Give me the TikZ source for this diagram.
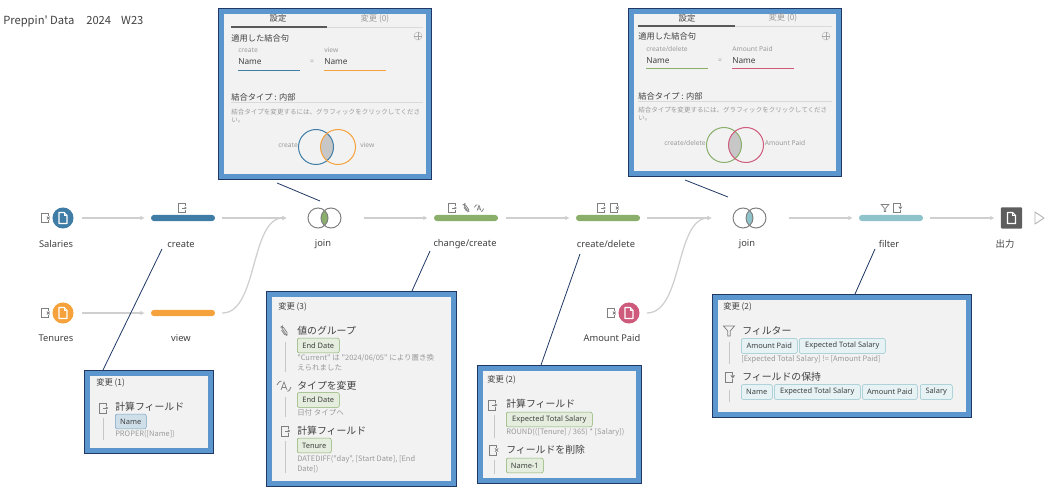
\documentclass[tikz,border=0pt]{standalone}
\usepackage{fontspec}
\setmainfont{Noto Sans}
\newfontfamily\jp{Noto Sans CJK JP}
\usetikzlibrary{positioning, arrows.meta}

\definecolor{bluebar}{HTML}{3F7DA6}
\definecolor{orangebar}{HTML}{F5A23C}
\definecolor{greenbar}{HTML}{8AAF6B}
\definecolor{tealbar}{HTML}{8FC3CB}
\definecolor{pinkbar}{HTML}{CE5A7C}
\definecolor{panelblue}{HTML}{5B96CF}
\definecolor{paneldark}{HTML}{1F3864}
\definecolor{panelgrey}{HTML}{F2F2F2}
\definecolor{flowgrey}{HTML}{CFCFCF}
\definecolor{labelgrey}{HTML}{404040}
\definecolor{descgrey}{HTML}{9A9A9A}
\definecolor{icongrey}{HTML}{808080}

\tikzset{
    w/.style={minimum width=#1*.75pt},
    txt/.style={inner sep=0pt, anchor=west, text=labelgrey, font=\fontsize{6.2}{7}\selectfont},
    lbl/.style={inner sep=0pt, text=labelgrey, font=\fontsize{7}{8}\selectfont},
    small/.style={inner sep=0pt, anchor=west, text=descgrey, font=\fontsize{5}{6}\selectfont},
    desc/.style={inner sep=0pt, anchor=west, text=descgrey, font=\jp\fontsize{5.6}{6}\selectfont},
    hint/.style={inner sep=0pt, anchor=west, text=descgrey, font=\jp\fontsize{4.9}{6}\selectfont},
    head/.style={inner sep=0pt, anchor=west, text=labelgrey, font=\jp\fontsize{6.2}{7}\selectfont},
    title/.style={inner sep=0pt, anchor=west, text=labelgrey, font=\jp\fontsize{7.4}{8}\selectfont},
    flow/.style 2 args={draw=flowgrey, line width=.95pt, -{Latex[length=3.2pt,width=3.4pt]}, shorten <=#1*.75pt, shorten >=#2*.75pt},
    leader/.style={draw=paneldark, line width=.6pt},
    bar/.style={fill=#1, rounded corners=2.2pt, minimum width=48pt, minimum height=4.6pt, inner sep=0pt},
    source/.style={circle, fill=#1, minimum size=15.8pt, inner sep=0pt},
    joinbox/.style={minimum width=25pt, minimum height=15pt, inner sep=0pt},
    panel/.style={draw=panelblue, line width=3.75pt, fill=panelgrey, inner sep=0pt, outer sep=0pt,
        preaction={draw=paneldark, line width=5.25pt}},
    chipg/.style={draw=#1, fill=#1!22, rounded corners=1.5pt, anchor=west, inner sep=0pt, minimum height=11.2pt,
        text=labelgrey, font=\fontsize{5.6}{6}\selectfont},
    stem/.style={draw=black!22, line width=.6pt},
    ico/.style={draw=icongrey, line width=.55pt},
    pics/addfield/.style={code={
        \draw[ico] (3.5,-1.8) -- (3.5,-5) -- (-3.5,-5) -- (-3.5,5) -- (3.5,5) -- (3.5,1.8);
        \draw[ico] (0,0) -- (3.5,0);
        \fill[icongrey] (2.8,-1.6) -- (5.4,0) -- (2.8,1.6) -- cycle;
    }},
    pics/dropfield/.style={code={
        \draw[ico] (3.5,-1.8) -- (3.5,-5) -- (-3.5,-5) -- (-3.5,5) -- (3.5,5) -- (3.5,1.8);
        \draw[ico] (2,-1.6) -- (5.2,1.6) (2,1.6) -- (5.2,-1.6);
    }},
    pics/keepfield/.style={code={
        \draw[ico] (3.5,-1.8) -- (3.5,-5) -- (-3.5,-5) -- (-3.5,5) -- (3.5,5) -- (3.5,1.8);
        \fill[icongrey] (1.4,-1.6) -- (6,-1.6) -- (3.7,1.6) -- cycle;
    }},
    pics/funnel/.style={code={
        \draw[ico] (-5.5,-5) -- (5.5,-5) -- (1.2,0) -- (1.2,5) -- (-1.2,5) -- (-1.2,0) -- cycle;
    }},
    pics/clip/.style={code={
        \draw[ico, rotate=35, rounded corners=1.4pt] (-1.6,-2) -- (-1.6,5) -- (1.6,5) -- (1.6,-5) -- (-.2,-5) -- (-.2,3);
    }},
    pics/retype/.style={code={
        \draw[ico] (-3,4) -- (0,-4) -- (3,4) (-1.9,1.4) -- (1.9,1.4);
        \draw[ico] (-7,-1) .. controls (-6,-4) and (-4,-5) .. (-2.5,-5);
        \draw[ico] (7,1) .. controls (6,4) and (5,5) .. (3.5,5.5);
    }},
    pics/sheet/.style={code={
        \draw[draw=white, line width=.8pt, line join=round] (-4,-5.5) -- (1.2,-5.5) -- (4,-2.7) -- (4,5.5) -- (-4,5.5) -- cycle;
        \draw[draw=white, line width=.7pt] (1.2,-5.5) -- (1.2,-2.7) -- (4,-2.7);
    }},
    pics/lens/.style={code={
        \begin{scope}
            \clip (-6.5,0) circle (10);
            \fill[#1] (6.5,0) circle (10);
        \end{scope}
        \draw[draw=icongrey, line width=.75pt] (-6.5,0) circle (10) (6.5,0) circle (10);
    }},
    pics/venn/.style 2 args={code={
        \begin{scope}
            \clip (-11,0) circle (17.5);
            \fill[black!22] (11,0) circle (17.5);
        \end{scope}
        \draw[draw=#1, line width=.75pt] (-11,0) circle (17.5);
        \draw[draw=#2, line width=.75pt] (11,0) circle (17.5);
    }},
}

\begin{document}
\begin{tikzpicture}[x=.75pt, y=-.75pt]
    \useasboundingbox (0,0) rectangle (1056,498);

    \node[title, font=\jp\fontsize{8.4}{9}\selectfont] (heading) at (3,21) {Preppin' Data\hspace{9pt}2024\hspace{7.5pt}W23};

    \node[source=bluebar] (salaries) at (63,218) {};
    \node[source=orangebar] (tenures) at (63,313) {};
    \node[source=pinkbar] (amount) at (629,313) {};
    \node[bar=bluebar] (createbar) at (183,218) {};
    \node[bar=orangebar] (viewbar) at (183,313) {};
    \node[bar=greenbar] (changebar) at (466,218) {};
    \node[bar=greenbar] (deletebar) at (608,218) {};
    \node[bar=tealbar] (filterbar) at (891,218) {};
    \node[joinbox] (joinone) at (324.5,218) {};
    \node[joinbox] (jointwo) at (749.5,218) {};
    \node[fill=black!63, rounded corners=.8pt, minimum size=16pt, inner sep=0pt] (output) at (1011.5,218) {};

    \pic at (salaries) {sheet};
    \pic at (tenures) {sheet};
    \pic at (amount) {sheet};
    \pic at (output) {sheet};
    \pic at (joinone) {lens=greenbar};
    \pic at (jointwo) {lens=tealbar};
    \draw[draw=black!30, line width=.7pt, line join=round] (1035,212) -- (1044,218) -- (1035,224) -- cycle;

    \pic[scale=.9] at (45,218) {dropfield};
    \pic[scale=.9] at (45,313) {dropfield};
    \pic[scale=.9] at (611,313) {dropfield};
    \pic[scale=.9] at (182,208) {addfield};
    \pic[scale=.9] at (452,208) {addfield};
    \pic[scale=.85] at (466,208) {clip};
    \pic[scale=.65] at (479,208) {retype};
    \pic[scale=.9] at (601,208) {addfield};
    \pic[scale=.9] at (614,208) {dropfield};
    \pic[scale=.7] at (885,208) {funnel};
    \pic[scale=.9] at (897,208) {keepfield};

    \node[lbl] (lblsalaries) at (56,244) {Salaries};
    \node[lbl] (lbltenures) at (56,338) {Tenures};
    \node[lbl] (lblcreate) at (181,244) {create};
    \node[lbl] (lblview) at (181,338) {view};
    \node[lbl] (lbljoinone) at (323,244) {join};
    \node[lbl] (lblchange) at (465,244) {change/create};
    \node[lbl] (lbldelete) at (606,244) {create/delete};
    \node[lbl] (lblamount) at (612,338) {Amount Paid};
    \node[lbl] (lbljointwo) at (747,244) {join};
    \node[lbl] (lblfilter) at (889,244) {filter};
    \node[lbl, font=\jp\fontsize{7}{8}\selectfont] (lbloutput) at (1005,244) {出力};

    \draw[flow={8}{6}] (salaries) -- (createbar);
    \draw[flow={8}{6}] (tenures) -- (viewbar);
    \draw[flow={7}{21}] (createbar) -- (joinone);
    \draw[flow={7}{0}] (viewbar.east) .. controls (258,313) and (250,218) .. ([xshift=-15.5pt]joinone.west);
    \draw[flow={23}{6}] (joinone) -- (changebar);
    \draw[flow={8}{6}] (changebar) -- (deletebar);
    \draw[flow={7}{21}] (deletebar) -- (jointwo);
    \draw[flow={7}{0}] (amount.east) .. controls (683,313) and (675,218) .. ([xshift=-15.5pt]jointwo.west);
    \draw[flow={23}{6}] (jointwo) -- (filterbar);
    \draw[flow={7}{6}] (filterbar) -- (output);

    \coordinate (leadonea) at (277,183);
    \coordinate (leadoneb) at (320,201);
    \coordinate (leadtwoa) at (685,180);
    \coordinate (leadtwob) at (728,197);
    \coordinate (leadcreatea) at (162,249);
    \coordinate (leadcreateb) at (103,370);
    \coordinate (leadchangea) at (430,251);
    \coordinate (leadchangeb) at (412,291);
    \coordinate (leaddeletea) at (580,254);
    \coordinate (leaddeleteb) at (541,365);
    \coordinate (leadfiltera) at (875,249);
    \coordinate (leadfilterb) at (855,294);
    \draw[leader] (leadonea) -- (leadoneb);
    \draw[leader] (leadtwoa) -- (leadtwob);
    \draw[leader] (leadcreatea) -- (leadcreateb);
    \draw[leader] (leadchangea) -- (leadchangeb);
    \draw[leader] (leaddeletea) -- (leaddeleteb);
    \draw[leader] (leadfiltera) -- (leadfilterb);

    \node[panel, minimum width=155.25pt, minimum height=123.75pt] (panelone) at (325,94) {};
    \node[head, anchor=center] (tabset) at (278,18) {設定};
    \node[head, anchor=center, text=descgrey] (tabchg) at (375,19) {変更 (0)};
    \draw[draw=black!15, line width=.6pt] (327,27) -- (423,27);
    \draw[draw=black!65, line width=1pt] (231,27) -- (327,27);
    \node[head] (clause) at (231,38) {適用した結合句};
    \node[circle, draw=black!25, line width=.4pt, minimum size=6pt, inner sep=0pt] (plus) at (418,36) {};
    \draw[draw=black!35, line width=.4pt] (plus.west) -- (plus.east) (plus.north) -- (plus.south);
    \node[small] (cola) at (238,50) {create};
    \node[txt] (namea) at (238,62) {Name};
    \draw[draw=bluebar, line width=.7pt] (238,70) -- (300,70);
    \node[small, anchor=center] (eqa) at (312,62) {=};
    \node[small] (colb) at (324,50) {view};
    \node[txt] (nameb) at (324,62) {Name};
    \draw[draw=orangebar, line width=.7pt] (324,70) -- (386,70);
    \node[head] (jointype) at (231,97) {結合タイプ : 内部};
    \draw[draw=black!15, line width=.5pt] (231,102) -- (423,102);
    \node[hint] (hinta) at (231,112) {結合タイプを変更するには、グラフィックをクリックしてくださ};
    \node[hint] (hintb) at (231,120) {い。};
    \pic at (327,147) {venn={bluebar}{orangebar}};
    \node[small] (vennleft) at (278,145) {create};
    \node[small] (vennright) at (360,145) {view};

    \node[panel, minimum width=155.25pt, minimum height=121.5pt] (paneltwo) at (734.5,92.5) {};
    \node[head, anchor=center] (tabsettwo) at (687,18) {設定};
    \node[head, anchor=center, text=descgrey] (tabchgtwo) at (783,18) {変更 (0)};
    \draw[draw=black!15, line width=.6pt] (735,26) -- (832,26);
    \draw[draw=black!65, line width=1pt] (638,26) -- (735,26);
    \node[head] (clausetwo) at (638,36) {適用した結合句};
    \node[circle, draw=black!25, line width=.4pt, minimum size=6pt, inner sep=0pt] (plustwo) at (826,36) {};
    \draw[draw=black!35, line width=.4pt] (plustwo.west) -- (plustwo.east) (plustwo.north) -- (plustwo.south);
    \node[small] (colatwo) at (646,49) {create/delete};
    \node[txt] (nameatwo) at (646,61) {Name};
    \draw[draw=greenbar, line width=.7pt] (646,68) -- (708,68);
    \node[small, anchor=center] (eqb) at (720,61) {=};
    \node[small] (colbtwo) at (732,49) {Amount Paid};
    \node[txt] (namebtwo) at (732,61) {Name};
    \draw[draw=pinkbar, line width=.7pt] (732,68) -- (794,68);
    \node[head] (jointypetwo) at (638,96) {結合タイプ : 内部};
    \draw[draw=black!15, line width=.5pt] (638,101) -- (832,101);
    \node[hint] (hintatwo) at (638,110) {結合タイプを変更するには、グラフィックをクリックしてくださ};
    \node[hint] (hintbtwo) at (638,118) {い。};
    \pic at (735,145) {venn={greenbar}{pinkbar}};
    \node[small, anchor=center] (vennlefttwo) at (685,143) {create/delete};
    \node[small, anchor=center] (vennrighttwo) at (785,143) {Amount Paid};

    \node[panel, minimum width=92.25pt, minimum height=57.75pt] (panelcreate) at (149,412) {};
    \node[head] (chgcreate) at (96,383) {変更 (1)};
    \pic at (103,408) {addfield};
    \node[title] (calccreate) at (115,407) {計算フィールド};
    \draw[stem] (103,418) -- (103,440);
    \node[chipg=bluebar, w=31, draw=bluebar!70, fill=bluebar!25] (chipname) at (115,421.5) {Name};
    \node[desc] (proper) at (115,434) {PROPER([Name])};

    \node[panel, minimum width=138pt, minimum height=141.75pt] (panelchange) at (361.5,389) {};
    \node[head] (chgchange) at (278,307) {変更 (3)};
    \pic at (284,331) {clip};
    \node[title] (grouptitle) at (297,331) {値のグループ};
    \draw[stem] (285,342) -- (285,372);
    \node[chipg=greenbar, w=42] (chipenda) at (297,345.5) {End Date};
    \node[desc] (groupa) at (297,358) {"Current" は "2024/06/05" により置き換};
    \node[desc] (groupb) at (297,368) {えられました};
    \pic at (284,386) {retype};
    \node[title] (typetitle) at (297,386) {タイプを変更};
    \draw[stem] (285,397) -- (285,417);
    \node[chipg=greenbar, w=42] (chipendb) at (297,400) {End Date};
    \node[desc] (typea) at (297,413) {日付 タイプへ};
    \pic at (285,431) {addfield};
    \node[title] (calcchange) at (297,431) {計算フィールド};
    \draw[stem] (285,441) -- (285,473);
    \node[chipg=greenbar, w=34] (chiptenure) at (297,445.5) {Tenure};
    \node[desc] (diffa) at (297,459) {DATEDIFF("day", [Start Date], [End};
    \node[desc] (diffb) at (297,469) {Date])};

    \node[panel, minimum width=118.5pt, minimum height=84pt] (paneldelete) at (559.5,424.5) {};
    \node[head] (chgdelete) at (487,380) {変更 (2)};
    \pic at (492,405) {addfield};
    \node[title] (calcdelete) at (506,404) {計算フィールド};
    \draw[stem] (494,415) -- (494,438);
    \node[chipg=greenbar, w=86] (chipsalary) at (506,419.5) {Expected Total Salary};
    \node[desc] (roundf) at (506,432) {ROUND(([Tenure] / 365) * [Salary])};
    \pic at (493,450) {dropfield};
    \node[title] (droptitle) at (506,450) {フィールドを削除};
    \draw[stem] (494,460) -- (494,474);
    \node[chipg=greenbar, w=37] (chipnameone) at (506,465.5) {Name-1};

    \node[panel, minimum width=189.75pt, minimum height=87.75pt] (panelfilter) at (842,356) {};
    \node[head] (chgfilter) at (723,307) {変更 (2)};
    \pic at (729,331) {funnel};
    \node[title] (filtertitle) at (742,331) {フィルター};
    \draw[stem] (729,342) -- (729,364);
    \node[chipg=tealbar, w=56] (chipamta) at (741,346) {Amount Paid};
    \node[chipg=tealbar, w=86] (chipexpa) at (799,346) {Expected Total Salary};
    \node[desc] (filterexpr) at (741,359) {[Expected Total Salary] != [Amount Paid]};
    \pic at (729,377) {keepfield};
    \node[title] (keeptitle) at (742,377) {フィールドの保持};
    \draw[stem] (729,390) -- (729,402);
    \node[chipg=tealbar, w=31] (chipnameb) at (741,392) {Name};
    \node[chipg=tealbar, w=86] (chipexpb) at (774,392) {Expected Total Salary};
    \node[chipg=tealbar, w=55] (chipamtb) at (862,392) {Amount Paid};
    \node[chipg=tealbar, w=32] (chipsal) at (920,392) {Salary};
\end{tikzpicture}
\end{document}
